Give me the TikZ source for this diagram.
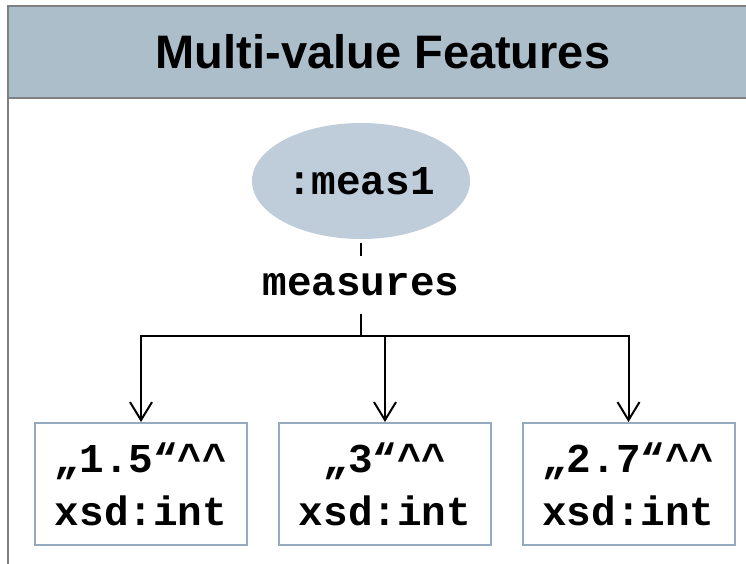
\documentclass[tikz,border=0pt]{standalone}
\usepackage{fontspec}
\setmainfont{Liberation Sans}
\newfontfamily\monof{Liberation Mono}
\usetikzlibrary{arrows.meta,shapes.geometric}
\definecolor{hdrfill}{RGB}{173,190,203}
\definecolor{ellfill}{RGB}{190,205,217}
\definecolor{boxline}{RGB}{150,170,190}
\definecolor{frameline}{RGB}{128,128,128}
\tikzset{
  frame/.style={draw=frameline, line width=2pt},
  titletext/.style={font=\fontsize{47}{56}\selectfont\bfseries, text=black, inner sep=0pt},
  ell/.style={ellipse, fill=ellfill, draw=none, minimum width=218pt, minimum height=116pt, inner sep=0pt,
    font=\monof\bfseries\fontsize{41}{50}\selectfont},
  lbl/.style={inner sep=0pt, minimum height=58pt, font=\monof\bfseries\fontsize{41}{50}\selectfont},
  litbox/.style={draw=boxline, line width=2pt, fill=white, minimum width=212pt, minimum height=122pt,
    inner sep=0pt, align=center, font=\monof\bfseries\fontsize{41}{53}\selectfont},
  conn/.style={draw=black, line width=2pt},
  arr/.style={conn, -{Straight Barb[length=18pt, width=22pt, line width=2pt]}}
}
\begin{document}
\begin{tikzpicture}[x=1pt,y=-1pt]
\useasboundingbox (0,0) rectangle (746,563);
\clip (0,0) rectangle (746,563);
\fill[white] (0,0) rectangle (746,563);
% header and frame
\draw[frame, fill=hdrfill] (7.5,5.5) rectangle (800,97.5);
\draw[frame] (7.5,97.5) -- (7.5,600);
\node[titletext] (title) at (383,52) {Multi-value Features};
% nodes
\node[ell] (m) at (361,181) {:meas1};
\node[lbl] (lab) at (361,285) {measures};
\coordinate (j) at (361,336);
\node[litbox] (b1) at (141,484) {„1.5“\textasciicircum\textasciicircum\\xsd:int};
\node[litbox] (b2) at (385,484) {„3“\textasciicircum\textasciicircum\\xsd:int};
\node[litbox] (b3) at (628.5,484) {„2.7“\textasciicircum\textasciicircum\\xsd:int};
% connectors
\draw[conn] ([yshift=-4pt]m.south) -- (lab.north);
\draw[conn] (lab.south) -- (j);
\draw[arr] (j) -| (b1.north);
\draw[arr] (j) -| (b2.north);
\draw[arr] (j) -| (b3.north);
\end{tikzpicture}
\end{document}
